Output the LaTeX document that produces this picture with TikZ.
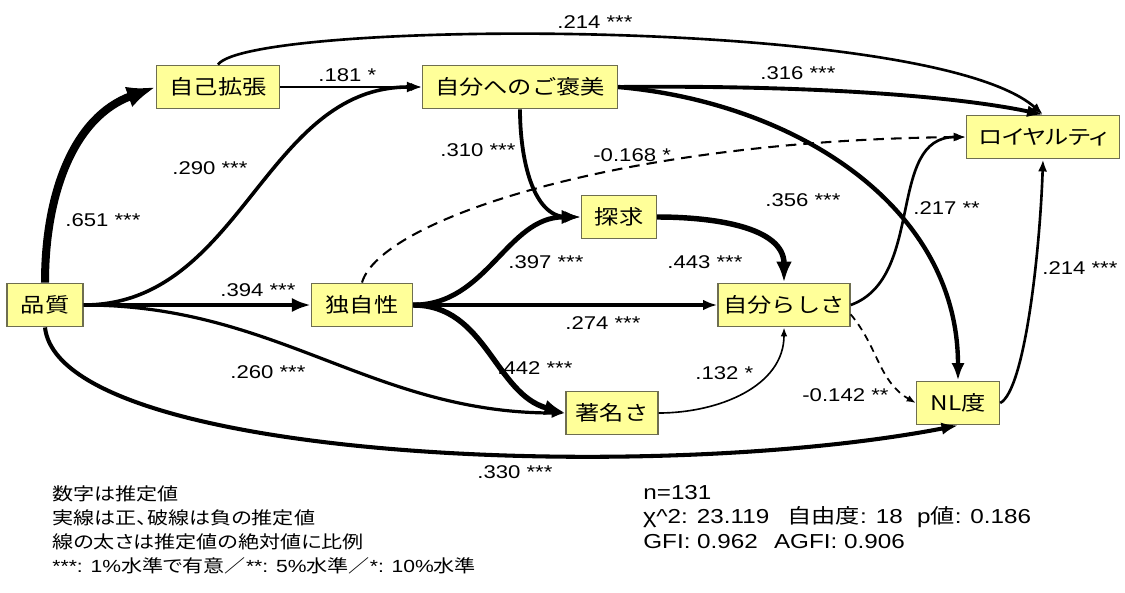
\documentclass[tikz,border=0pt]{standalone}
\usepackage{fontspec}
\setmainfont{Liberation Sans}[FakeStretch=1.2]
\newfontfamily\jp{Noto Sans CJK JP}[FakeStretch=1.2]
\newfontfamily\jpp{Noto Sans CJK JP}[FakeStretch=1.2,RawFeature=+palt]
\usepackage{tikz}
\usetikzlibrary{arrows.meta}

\definecolor{boxfill}{RGB}{255,255,153}
\definecolor{boxline}{RGB}{110,110,80}

\begin{document}
\begin{tikzpicture}[
    x=0.02cm, y=0.02cm,
    every node/.style={inner sep=0pt},
    var/.style={rectangle, draw=boxline, fill=boxfill, line width=0.8pt,
      minimum height=0.87cm, font=\jp\fontsize{11.5}{14}\selectfont},
    est/.style={line width=#1*7pt, -{Latex[scale=.7]}},
    neg/.style={est=#1, dash pattern=on 6pt off 4pt},
    coef/.style={anchor=west, font=\fontsize{10.5}{12}\selectfont},
  ]
  \useasboundingbox (0,0) rectangle (1125,-592);

  \node[var, minimum width=1.52cm] (qual)  at (45,-305)   {品質};
  \node[var, minimum width=2.46cm] (ext)   at (218,-87)   {自己拡張};
  \node[var, minimum width=3.9cm]  (rew)   at (520,-87)   {自分へのご褒美};
  \node[var, minimum width=3.06cm] (loy)   at (1043,-137) {\jpp ロイヤルティ};
  \node[var, minimum width=1.5cm]  (quest) at (619,-217)  {探求};
  \node[var, minimum width=2.02cm] (uniq)  at (362,-305)  {独自性};
  \node[var, minimum width=2.64cm] (self)  at (784,-305)  {自分らしさ};
  \node[var, minimum width=1.84cm] (fame)  at (612,-413)  {著名さ};
  \node[var, minimum width=1.66cm] (nl)    at (958,-403)  {NL度};

  % paths, width ~ estimate
  \draw[est=.651] (qual.north) to[out=90, in=200] (ext.west);
  \draw[est=.181] (ext) -- (rew);
  \draw[est=.290] (qual.east) to[out=0, in=180] (rew.west);
  \draw[est=.394] (qual) -- (uniq);
  \draw[est=.260] (qual.east) to[out=0, in=180] (fame.west);
  \draw[est=.330] (qual.south) .. controls (60,-460) and (650,-485) .. (nl.south);
  \draw[est=.214] (ext.north) .. controls (250,-20) and (930,-15) .. (loy.north);
  \draw[est=.316] (rew.east) .. controls (800,-85) and (950,-95) .. (loy.north);
  \draw[est=.310] (rew.south) to[out=-90, in=180] (quest.west);
  \draw[est=.356] (rew.east) to[out=-5, in=90] (nl.north);
  \draw[neg=.168] (uniq.north) .. controls (380,-220) and (620,-140) .. (loy.west);
  \draw[est=.397] (uniq.east) to[out=0, in=180] (quest.west);
  \draw[est=.274] (uniq) -- (self);
  \draw[est=.442] (uniq.east) to[out=0, in=165] (fame.west);
  \draw[est=.443] (quest.east) to[out=0, in=90] (self.north);
  \draw[est=.132] (fame.east) to[out=0, in=-90] (self.south);
  \draw[est=.217] (self.east) to[out=20, in=180] (loy.west);
  \draw[neg=.142, dash pattern=on 4pt off 3pt] (self.-8) to[out=-50, in=150] (nl.west);
  \draw[est=.214] (nl.east) .. controls (1025,-390) and (1040,-250) .. (loy.south);

  % estimates
  \node[coef] (c651)  at (65,-220)  {.651 ***};
  \node[coef] (c181)  at (318,-75)  {.181 *};
  \node[coef] (c290)  at (172,-168) {.290 ***};
  \node[coef] (c394)  at (220,-290) {.394 ***};
  \node[coef] (c260)  at (230,-372) {.260 ***};
  \node[coef] (c330)  at (477,-472) {.330 ***};
  \node[coef] (c214a) at (557,-22)  {.214 ***};
  \node[coef] (c316)  at (760,-73)  {.316 ***};
  \node[coef] (c310)  at (440,-150) {.310 ***};
  \node[coef] (c356)  at (765,-200) {.356 ***};
  \node[coef] (c168)  at (593,-155) {-0.168 *};
  \node[coef] (c397)  at (508,-262) {.397 ***};
  \node[coef] (c274)  at (565,-323) {.274 ***};
  \node[coef] (c442)  at (497,-368) {.442 ***};
  \node[coef] (c443)  at (667,-262) {.443 ***};
  \node[coef] (c132)  at (695,-373) {.132 *};
  \node[coef] (c217)  at (913,-208) {.217 **};
  \node[coef] (c142)  at (802,-395) {-0.142 **};
  \node[coef] (c214b) at (1042,-268) {.214 ***};

  % notes
  \node[anchor=north west, align=left, font=\jpp\fontsize{10}{13.8}\selectfont] (notes) at (52,-485)
    {数字は推定値\\実線は正、破線は負の推定値\\線の太さは推定値の絶対値に比例\\
     {\rmfamily ***: 1\%}水準で有意／{\rmfamily **: 5\%}水準／{\rmfamily *: 10\%}水準};
  \node[anchor=north west, align=left, font=\fontsize{11.5}{13.9}\selectfont] (fit) at (643,-485)
    {n=131\\{\jpp χ}\textasciicircum 2: 23.119\hspace{0.9em}{\jpp 自由度}: 18\hspace{0.7em}p{\jpp 値}: 0.186\\
     GFI: 0.962\hspace{0.8em}AGFI: 0.906};

\end{tikzpicture}
\end{document}
